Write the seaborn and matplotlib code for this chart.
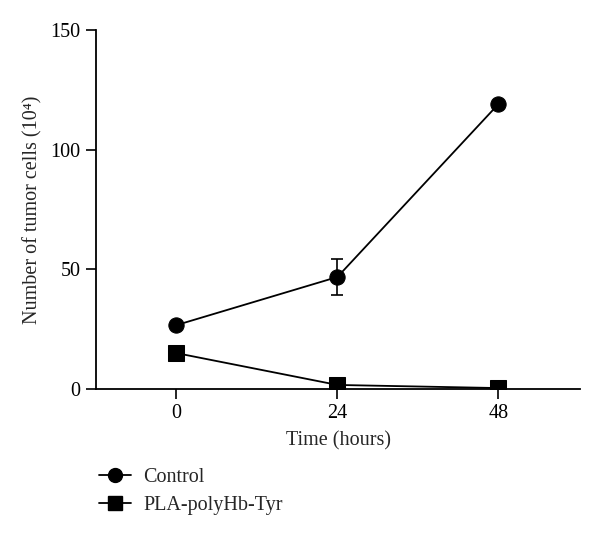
import matplotlib
matplotlib.use("Agg")
import matplotlib.pyplot as plt
import seaborn as sns
import pandas as pd
from matplotlib.lines import Line2D

times = [0, 24, 48]
control = [26.7, 46.8, 119.0]
control_err = [0.0, 7.5, 0.0]
pla = [15.0, 1.7, 0.4]
series_names = ["Control", "PLA-polyHb-Tyr"]
y_ticks = [0, 50, 100, 150]

sns.set_style("ticks")
plt.rcParams['font.family'] = ['Liberation Serif', 'DejaVu Serif']

df = pd.DataFrame({
    "time": times * 2,
    "value": control + pla,
    "series": [series_names[0]] * 3 + [series_names[1]] * 3,
})

fig = plt.figure(figsize=(6.0, 5.34), dpi=100)
ax = fig.add_axes([0.16, 0.2715, 0.807, 0.6725])

sns.lineplot(data=df, x="time", y="value", hue="series", style="series",
             markers={"Control": "o", "PLA-polyHb-Tyr": "s"}, dashes=False,
             palette={"Control": "black", "PLA-polyHb-Tyr": "black"},
             markersize=11, linewidth=1.3, ax=ax, legend=False, markeredgecolor="black")
ex = [t for t, e in zip(times, control_err) if e > 0]
ey = [v for v, e in zip(control, control_err) if e > 0]
ee = [e for e in control_err if e > 0]
ax.errorbar(ex, ey, yerr=ee, fmt="none", ecolor="black",
            elinewidth=1.2, capsize=4.5, capthick=1.2)

ax.set_xlim(-12, 60.2)
ax.set_ylim(0, 150)
ax.set_xticks(times)
ax.set_yticks(y_ticks)
ax.tick_params(axis="both", labelsize=14.5, length=7, width=1.2, colors="black", pad=4)
for s in ["left", "bottom"]:
    ax.spines[s].set_linewidth(1.3)
    ax.spines[s].set_color("black")
sns.despine(ax=ax)
ax.set_xlabel("Time (hours)", fontsize=14.5, labelpad=6)
ax.set_ylabel("Number of tumor cells (10\u2074)", fontsize=14.5, labelpad=6)

handles = [Line2D([], [], color="black", marker="o", markersize=10, linewidth=1.3),
           Line2D([], [], color="black", marker="s", markersize=10, linewidth=1.3)]
fig.legend(handles, series_names, loc="upper left", bbox_to_anchor=(0.152, 0.138),
           frameon=False, fontsize=14.5, handlelength=1.6, handletextpad=0.6,
           labelspacing=0.4, borderaxespad=0)

fig.savefig("out.png", dpi=100)
